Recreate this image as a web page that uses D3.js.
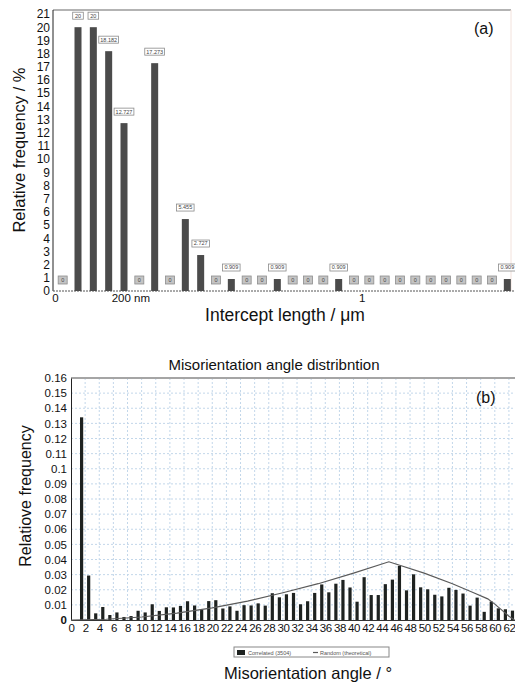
<!DOCTYPE html>
<html>
<head>
<meta charset="utf-8">
<script src="https://cdn.jsdelivr.net/npm/d3@7"></script>
<style>
  body { margin: 0; background: #fff; }
  svg { display: block; font-family: "Liberation Sans", Arial, sans-serif; }
</style>
</head>
<body>
<div id="chart"></div>
<script>
// (a) intercept length histogram, bins of 0.05 um
const interceptBinWidth = 0.05
const interceptValues = [0, 20, 20, 18.182, 12.727, 0, 17.273, 0, 5.455, 2.727,
  0, 0.909, 0, 0, 0.909, 0, 0, 0, 0.909, 0,
  0, 0, 0, 0, 0, 0, 0, 0, 0, 0.909]
const interceptTicks = [0, 0.2, 1]
const interceptTickLabels = ["0", "200 nm", "1"]

// (b) misorientation angle, bins of 1 degree
const angleValues = [0, 0.134, 0.0294, 0.0044, 0.0086, 0.0033, 0.005, 0.002, 0.0026, 0.0061,
  0.005, 0.0104, 0.006, 0.0084, 0.0083, 0.0093, 0.0124, 0.0096, 0.0066, 0.0125,
  0.0131, 0.0076, 0.009, 0.0061, 0.0098, 0.0096, 0.011, 0.0095, 0.0177, 0.015,
  0.017, 0.0179, 0.0104, 0.0124, 0.0179, 0.0235, 0.0183, 0.024, 0.0265, 0.0215,
  0.0121, 0.0283, 0.0165, 0.0165, 0.0237, 0.0267, 0.0358, 0.0196, 0.0302, 0.0216,
  0.0203, 0.0167, 0.0156, 0.0213, 0.0199, 0.0175, 0.0095, 0.0148, 0.0054, 0.0122,
  0.0077, 0.0071, 0.0062]
const randomAngles = [0, 5, 10, 15, 20, 25, 30, 35, 40, 45, 50, 54, 57, 59, 60, 61, 62, 62.8]
const randomValues = [0, 0.0005, 0.002, 0.0045, 0.008, 0.0125, 0.018, 0.024, 0.031, 0.0385,
  0.031, 0.024, 0.018, 0.014, 0.0105, 0.0065, 0.0025, 0]
const legendLabels = ["Correlated (3504)", "Random (theoretical)"]

const svg = d3.select("#chart").append("svg")
  .attr("width", 515)
  .attr("height", 686)

drawIntercept()
drawMisorientation()

function drawIntercept() {
  const x = d3.scaleLinear().domain([0, 1.5]).range([55, 515])
  const y = d3.scaleLinear().domain([0, 21]).range([291, 14])
  const g = svg.append("g")

  // frame
  g.append("line").attr("x1", 53).attr("x2", 511).attr("y1", 10).attr("y2", 10)
    .attr("stroke", "#9a9a9a").attr("stroke-width", 1.5)
  g.append("line").attr("x1", 511).attr("x2", 511).attr("y1", 10).attr("y2", 291)
    .attr("stroke", "#f3e2dc").attr("stroke-width", 1)

  const yAxis = g.append("g")
    .attr("transform", "translate(53, 0)")
    .call(d3.axisLeft(y).tickValues(d3.range(0, 22)).tickSize(0).tickPadding(3))
  yAxis.select(".domain").attr("d", "M0,10V291").attr("stroke", "#222")
  yAxis.selectAll("text").attr("font-size", "12px").attr("fill", "#111")
    .attr("font-family", "Liberation Sans, Arial, sans-serif")

  const xAxis = g.append("g")
    .attr("transform", "translate(0, 291)")
    .call(d3.axisBottom(x).tickValues(interceptTicks).tickSize(0).tickPadding(3)
      .tickFormat((d, i) => interceptTickLabels[i]))
  xAxis.select(".domain").remove()
  xAxis.selectAll("text").attr("font-size", "11.5px").attr("fill", "#111")
    .attr("font-family", "Liberation Sans, Arial, sans-serif")
    .attr("dx", (d, i) => i === 1 ? "14px" : 0)

  // dotted baseline
  g.append("line").attr("x1", 53).attr("x2", 515).attr("y1", 291).attr("y2", 291)
    .attr("stroke", "#555").attr("stroke-dasharray", "2,1")

  const bins = interceptValues.map((v, i) => ({ mid: (i + 0.5) * interceptBinWidth, value: v }))

  g.selectAll(".bar").data(bins.filter(d => d.value > 0))
    .enter().append("rect")
      .attr("class", "bar")
      .attr("x", d => x(d.mid) - 3.5)
      .attr("width", 7)
      .attr("y", d => y(d.value))
      .attr("height", d => y(0) - y(d.value))
      .attr("fill", "#4b4b4b")

  // value tags
  const tags = g.selectAll(".tag").data(bins)
    .enter().append("g")
      .attr("class", "tag")
      .attr("transform", d => d.value > 0
        ? `translate(${x(d.mid)}, ${y(d.value) - 11.5})`
        : `translate(${x(d.mid)}, 280)`)

  tags.append("rect")
    .attr("x", d => d.value > 0 ? -(String(d.value).length * 2.3 + 6) / 2 : -4.5)
    .attr("y", d => d.value > 0 ? -3.5 : -4)
    .attr("width", d => d.value > 0 ? String(d.value).length * 2.3 + 6 : 9)
    .attr("height", d => d.value > 0 ? 7 : 8)
    .attr("fill", d => d.value > 0 ? "#fff" : "#c4c4c4")
    .attr("stroke", d => d.value > 0 ? "#8a8a8a" : "#8d8d8d")
    .attr("stroke-width", 0.8)

  tags.append("text")
    .attr("text-anchor", "middle")
    .attr("dy", "0.35em")
    .attr("font-size", "5.5px")
    .attr("fill", "#444")
    .text(d => String(d.value))

  g.append("text")
    .attr("transform", "translate(25, 150) rotate(-90)")
    .attr("text-anchor", "middle")
    .attr("font-size", "16.5px")
    .attr("fill", "#111")
    .text("Relative frequency / %")

  g.append("text")
    .attr("x", 285)
    .attr("y", 321)
    .attr("text-anchor", "middle")
    .attr("font-size", "17.5px")
    .attr("fill", "#111")
    .text("Intercept length / \u03bcm")

  g.append("text")
    .attr("x", 474)
    .attr("y", 34)
    .attr("font-size", "16px")
    .attr("fill", "#111")
    .text("(a)")
}

function drawMisorientation() {
  const x = d3.scaleLinear().domain([0, 63]).range([71, 516])
  const y = d3.scaleLinear().domain([0, 0.16]).range([620, 378])
  const g = svg.append("g")

  // grid
  g.selectAll(".vgrid").data(d3.range(2, 63, 2))
    .enter().append("line")
      .attr("class", "vgrid")
      .attr("x1", d => x(d)).attr("x2", d => x(d))
      .attr("y1", 378).attr("y2", 620)
      .attr("stroke", "#c3d7ea").attr("stroke-dasharray", "2,2")
  g.selectAll(".hgrid").data(d3.range(1, 16).map(d => d / 100))
    .enter().append("line")
      .attr("class", "hgrid")
      .attr("x1", 71).attr("x2", 515)
      .attr("y1", d => y(d)).attr("y2", d => y(d))
      .attr("stroke", "#c3d7ea").attr("stroke-dasharray", "2,2")

  g.append("line").attr("x1", 71).attr("x2", 515).attr("y1", 378).attr("y2", 378)
    .attr("stroke", "#a5a5a5").attr("stroke-width", 2)

  const yAxis = g.append("g")
    .attr("transform", "translate(71, 0)")
    .call(d3.axisLeft(y).tickValues(d3.range(0, 17).map(d => d / 100)).tickSize(0).tickPadding(4)
      .tickFormat(d => d === 0 ? "0" : String(+d.toFixed(2))))
  yAxis.select(".domain").attr("stroke", "#222")
  yAxis.selectAll("text").attr("font-size", "11.5px").attr("fill", "#111")
    .attr("font-family", "Liberation Sans, Arial, sans-serif")
    .attr("font-weight", d => d === 0 ? "bold" : "normal")

  const xAxis = g.append("g")
    .attr("transform", "translate(0, 620)")
    .call(d3.axisBottom(x).tickValues(d3.range(0, 63, 2)).tickSize(0).tickPadding(4))
  xAxis.select(".domain").attr("stroke", "#333")
  xAxis.selectAll("text").attr("font-size", "11.5px").attr("fill", "#111")
    .attr("letter-spacing", "-0.4px")
    .attr("font-family", "Liberation Sans, Arial, sans-serif")

  g.selectAll(".bar").data(angleValues)
    .enter().append("rect")
      .attr("class", "bar")
      .attr("x", (d, i) => x(i + 0.5) - 1.6)
      .attr("width", 3.2)
      .attr("y", d => y(d))
      .attr("height", d => y(0) - y(d))
      .attr("fill", "#1e2220")

  const randomLine = d3.line()
    .x(d => x(d[0]))
    .y(d => y(d[1]))
  g.append("path")
    .datum(d3.zip(randomAngles, randomValues))
    .attr("d", randomLine)
    .attr("fill", "none")
    .attr("stroke", "#5a5a5a")
    .attr("stroke-width", 1.2)

  g.append("text")
    .attr("x", 274)
    .attr("y", 370)
    .attr("text-anchor", "middle")
    .attr("font-size", "15px")
    .attr("fill", "#111")
    .text("Misorientation angle distribntion")

  g.append("text")
    .attr("x", 476)
    .attr("y", 403)
    .attr("font-size", "16px")
    .attr("fill", "#111")
    .text("(b)")

  g.append("text")
    .attr("transform", "translate(31, 496) rotate(-90)")
    .attr("text-anchor", "middle")
    .attr("font-size", "16px")
    .attr("fill", "#111")
    .text("Relatiove frequency")

  g.append("text")
    .attr("x", 308)
    .attr("y", 679)
    .attr("text-anchor", "middle")
    .attr("font-size", "16.5px")
    .attr("fill", "#111")
    .text("Misorientation angle / \u00b0")

  // legend
  const legend = g.append("g").attr("transform", "translate(234, 647)")
  legend.append("rect")
    .attr("width", 155).attr("height", 10)
    .attr("fill", "#fff").attr("stroke", "#888").attr("stroke-width", 1)
  legend.append("rect")
    .attr("x", 3).attr("y", 3).attr("width", 8).attr("height", 5)
    .attr("fill", "#1e2220")
  legend.append("line")
    .attr("x1", 79).attr("x2", 84).attr("y1", 5.5).attr("y2", 5.5)
    .attr("stroke", "#5a5a5a").attr("stroke-width", 1.2)
  legend.selectAll(".legendText").data(legendLabels)
    .enter().append("text")
      .attr("class", "legendText")
      .attr("x", (d, i) => i === 0 ? 14 : 86)
      .attr("y", 7.5)
      .attr("font-size", "5.5px")
      .attr("fill", "#555")
      .text(d => d)
}
</script>
</body>
</html>
